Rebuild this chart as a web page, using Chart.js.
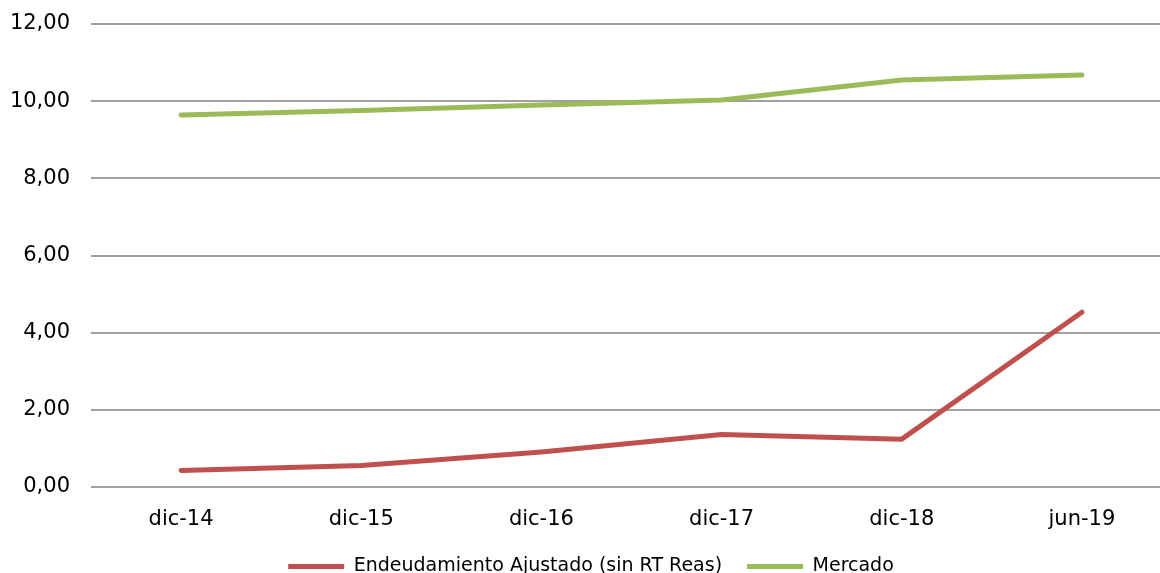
<!DOCTYPE html>
<html>
<head>
<meta charset="utf-8">
<script src="https://cdn.jsdelivr.net/npm/chart.js"></script>
<style>
  html, body { margin: 0; padding: 0; background: #fff; overflow: hidden; }
  #wrap { position: absolute; left: 0; top: 0; }
</style>
</head>
<body>
<div id="wrap"><canvas id="endeudamiento" width="1174" height="586"></canvas></div>
<script>
const periodos = ['dic-14', 'dic-15', 'dic-16', 'dic-17', 'dic-18', 'jun-19']
const ajustado = [0.43, 0.56, 0.91, 1.36, 1.24, 4.53]
const mercado = [9.64, 9.76, 9.90, 10.03, 10.55, 10.68]
const yTicks = [0, 2, 4, 6, 8, 10, 12]

const fmt = v => v.toFixed(2).replace('.', ',')

new Chart(document.querySelector('#endeudamiento'), {
  type: 'line',
  data: {
    labels: periodos,
    datasets: [
      {
        label: 'Endeudamiento Ajustado (sin RT Reas)',
        data: ajustado,
        borderColor: '#C0504D',
        backgroundColor: '#C0504D',
        borderWidth: 5,
        borderCapStyle: 'round',
        borderJoinStyle: 'round',
        pointRadius: 0,
        tension: 0
      },
      {
        label: 'Mercado',
        data: mercado,
        borderColor: '#9BBB59',
        backgroundColor: '#9BBB59',
        borderWidth: 5,
        borderCapStyle: 'round',
        borderJoinStyle: 'round',
        pointRadius: 0,
        tension: 0
      }
    ]
  },
  options: {
    responsive: false,
    animation: false,
    layout: { padding: { top: 24, left: 10, right: 2, bottom: 0 } },
    font: { family: 'DejaVu Sans' },
    plugins: {
      tooltip: { enabled: false },
      legend: {
        position: 'bottom',
        labels: {
          usePointStyle: true,
          pointStyle: 'line',
          pointStyleWidth: 56,
          color: '#000',
          padding: 25,
          font: { family: 'DejaVu Sans', size: 19 }
        }
      }
    },
    scales: {
      x: {
        offset: true,
        grid: { display: false },
        border: { display: false },
        ticks: {
          color: '#000',
          padding: 12,
          maxRotation: 0,
          font: { family: 'DejaVu Sans', size: 21 }
        },
        // keep the label band tight so the plot reaches down to the legend
        afterFit: scale => { scale.height = 45 }
      },
      y: {
        min: yTicks[0],
        max: yTicks[yTicks.length - 1],
        afterBuildTicks: axis => { axis.ticks = yTicks.map(v => ({ value: v })) },
        grid: { color: '#A0A0A0', lineWidth: 2, drawTicks: false },
        border: { display: false },
        ticks: {
          color: '#000',
          padding: 21,
          font: { family: 'DejaVu Sans', size: 21 },
          callback: v => fmt(v)
        },
        afterFit: scale => {
          scale.width = 81
          scale.paddingTop = 0
          scale.paddingBottom = 0
        }
      }
    }
  }
})
</script>
</body>
</html>
